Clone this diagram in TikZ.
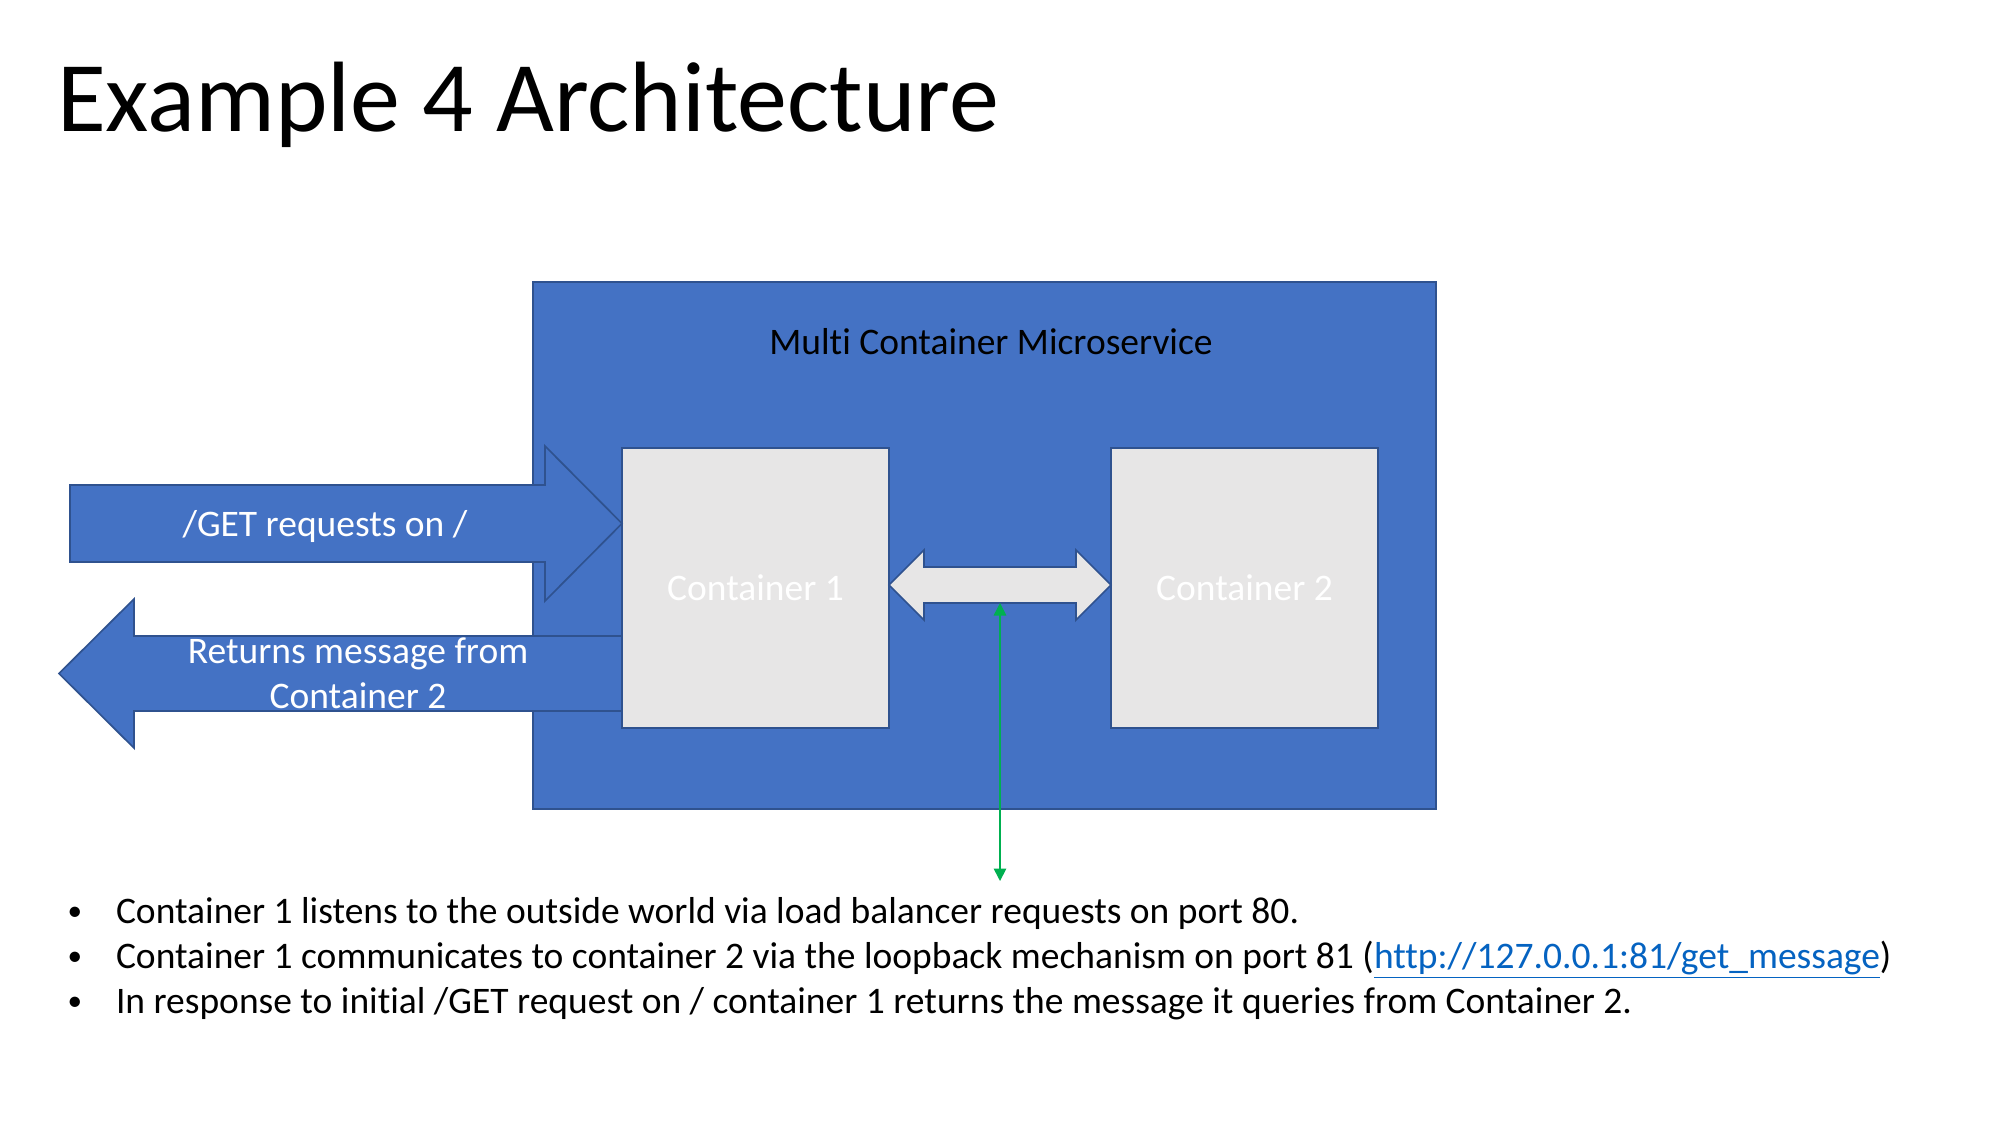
\documentclass[tikz,border=0pt]{standalone}
\usepackage{fontspec}
\setmainfont{Carlito}[Ligatures=NoCommon]
\usetikzlibrary{arrows.meta}
\definecolor{boxblue}{HTML}{4472C4}
\definecolor{edgeblue}{HTML}{2F528F}
\definecolor{panelgray}{HTML}{E7E6E6}
\definecolor{wiregreen}{HTML}{00B050}
\definecolor{linkblue}{HTML}{0563C1}
\begin{document}
\begin{tikzpicture}[x=0.48pt,y=-0.48pt,
  every node/.style={inner sep=0pt, outer sep=0pt},
  body/.style={font=\fontsize{18}{21.6}\selectfont},
  service/.style={draw=edgeblue, fill=boxblue, line width=0.8pt,
    minimum width=433.44pt, minimum height=252.96pt},
  container/.style={draw=edgeblue, fill=panelgray, line width=0.8pt,
    minimum width=128.16pt, minimum height=134.4pt, text=white, body},
  blockarrow/.style={draw=edgeblue, fill=boxblue, line width=0.8pt},
  grayarrow/.style={draw=edgeblue, fill=panelgray, line width=0.8pt},
  wire/.style={draw=wiregreen, line width=0.8pt,
    {Triangle[width=6pt,length=6pt]}-{Triangle[width=6pt,length=6pt]}},
  bulletmark/.style={font=\fontsize{14}{16}\selectfont}
]
% page
\fill[white] (0,0) rectangle (2000,1125);
\useasboundingbox (0,0) rectangle (2000,1125);

% title
\node[anchor=base west, font=\fontsize{48}{57}\selectfont] (title) at (57,131) {Example 4 Architecture};

% service box and its two containers
\node[service] (svc) at (984.5,545.5) {};
\node[body, anchor=base] (svclabel) at (991,354) {Multi Container Microservice};
\node[container] (c1) at (755.5,588) {Container 1};
\node[container] (c2) at (1244.5,588) {Container 2};

% incoming request arrow
\path[blockarrow] (70,485) -- (545,485) -- (545,446) -- (c1.west |- 0,523.5)
  -- (545,601) -- (545,562) -- (70,562) -- cycle;
\node[body, text=white, anchor=base] (reqlabel) at (325,536) {/GET requests on /};

% outgoing response arrow
\path[blockarrow] (c1.west |- 0,636) -- (134,636) -- (134,599) -- (59,673.5)
  -- (134,748) -- (134,711) -- (c1.west |- 0,711) -- cycle;
\node[body, text=white, align=center] (resplabel) at (358,673.5) {Returns message from\\Container 2};

% loopback link between the containers
\path[grayarrow] (c1.east |- 0,585) -- (924,550) -- (924,567) -- (1076,567) -- (1076,550)
  -- (c2.west |- 0,585) -- (1076,620) -- (1076,603) -- (924,603) -- (924,620) -- cycle;
\coordinate (loop) at (1000,603);
\coordinate (loopend) at (1000,881);
\draw[wire] (loop) -- (loopend);

% notes
\foreach \y/\n in {923/a,968/b,1013/c}{
  \node[bulletmark, anchor=base] (dot\n) at (75,\y-3) {•};
}
\node[body, anchor=base west] (notea) at (116,923)
  {Container 1 listens to the outside world via load balancer requests on port 80.};
\node[body, anchor=base west] (noteb) at (116,968)
  {Container 1 communicates to container 2 via the loopback mechanism on port 81 (\textcolor{linkblue}{\underline{http://127.0.0.1:81/get\_message}})};
\node[body, anchor=base west] (notec) at (116,1013)
  {In response to initial /GET request on / container 1 returns the message it queries from Container 2.};
\end{tikzpicture}
\end{document}
